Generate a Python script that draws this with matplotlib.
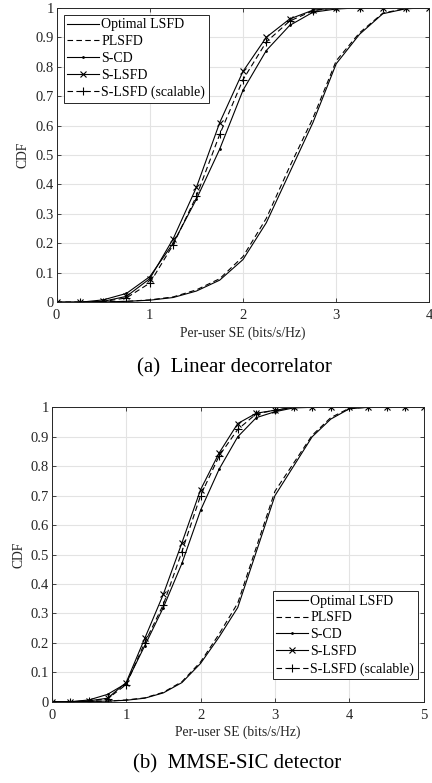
import numpy as np
import matplotlib
matplotlib.use("Agg")
import matplotlib.pyplot as plt

plt.rcParams["font.family"] = ["Liberation Serif", "DejaVu Serif"]

# (a) linear decorrelator, SE grid 0..4 step 0.25
se_a = np.arange(0, 4.01, 0.25)
opt_a = [0, 0, 0.001, 0.003, 0.007, 0.016, 0.038, 0.075, 0.145, 0.27, 0.44, 0.61, 0.81, 0.91, 0.98, 0.997, 1]
plsfd_a = [0, 0, 0.001, 0.003, 0.008, 0.018, 0.042, 0.08, 0.155, 0.285, 0.46, 0.625, 0.82, 0.915, 0.982, 0.998, 1]
scd_a = [0, 0, 0.008, 0.03, 0.087, 0.2, 0.35, 0.52, 0.72, 0.855, 0.94, 0.985, 0.996, 1, 1, 1, 1]
slsfd_a = [0, 0, 0.003, 0.02, 0.08, 0.215, 0.39, 0.61, 0.784, 0.9, 0.962, 0.992, 1, 1, 1, 1, 1]
scal_a = [0, 0, 0.002, 0.015, 0.065, 0.195, 0.36, 0.57, 0.756, 0.884, 0.955, 0.99, 1, 1, 1, 1, 1]

# (b) MMSE-SIC detector, SE grid 0..5 step 0.25
se_b = np.arange(0, 5.01, 0.25)
opt_b = [0, 0, 0.001, 0.002, 0.005, 0.012, 0.03, 0.065, 0.13, 0.22, 0.32, 0.51, 0.7, 0.8, 0.9, 0.96, 0.995, 1, 1, 1, 1]
plsfd_b = [0, 0, 0.001, 0.002, 0.006, 0.013, 0.032, 0.068, 0.135, 0.23, 0.335, 0.525, 0.715, 0.81, 0.905, 0.965, 0.997, 1, 1, 1, 1]
scd_b = [0, 0, 0.006, 0.025, 0.062, 0.19, 0.32, 0.47, 0.65, 0.79, 0.9, 0.965, 0.985, 0.998, 1, 1, 1, 1, 1, 1, 1]
slsfd_b = [0, 0, 0.003, 0.012, 0.065, 0.215, 0.365, 0.54, 0.72, 0.845, 0.945, 0.98, 0.99, 1, 1, 1, 1, 1, 1, 1, 1]
scal_b = [0, 0, 0.002, 0.01, 0.058, 0.2, 0.33, 0.51, 0.70, 0.835, 0.925, 0.978, 0.99, 1, 1, 1, 1, 1, 1, 1, 1]

labels = ["Optimal LSFD", "PLSFD", "S-CD", "S-LSFD", "S-LSFD (scalable)"]
styles = [dict(ls="-", marker=None),
          dict(ls="--", marker=None, dashes=(5, 3)),
          dict(ls="-", marker=".", ms=2),
          dict(ls="-", marker="x", ms=4, mew=0.8),
          dict(ls="--", marker="+", ms=6, mew=0.8, dashes=(5, 3))]

fig = plt.figure(figsize=(4.32, 7.83), dpi=100)
ax1 = fig.add_axes([0.131, 0.614, 0.863, 0.376])
ax2 = fig.add_axes([0.1197, 0.1038, 0.8613, 0.376])


def draw(ax, x, series, xmax):
    for y, lab, st in zip(series, labels, styles):
        ax.plot(x, y, color="black", lw=0.8, label=lab, **st)
    ax.set_xlim(0, xmax)
    ax.set_ylim(0, 1)
    ax.set_xticks(np.arange(0, xmax + 1, 1))
    ax.set_yticks(np.arange(0, 1.01, 0.1))
    ax.set_yticklabels(["0", "0.1", "0.2", "0.3", "0.4", "0.5", "0.6", "0.7", "0.8", "0.9", "1"])
    ax.grid(True, color="#e3e3e3", lw=0.8)
    ax.set_axisbelow(True)
    ax.tick_params(direction="in", top=True, right=True, labelsize=10.5,
                   length=3, width=0.6, colors="#262626")
    ax.tick_params(axis="x", pad=5)
    ax.tick_params(axis="y", pad=2)
    for s in ax.spines.values():
        s.set_color("#262626")
        s.set_linewidth(0.7)
    ax.set_xlabel("Per-user SE (bits/s/Hz)", fontsize=9.8, color="#262626", labelpad=3)
    ax.set_ylabel("CDF", fontsize=9.8, color="#262626", labelpad=4)


draw(ax1, se_a, [opt_a, plsfd_a, scd_a, slsfd_a, scal_a], 4)
draw(ax2, se_b, [opt_b, plsfd_b, scd_b, slsfd_b, scal_b], 5)

leg_kw = dict(fontsize=10, handlelength=2.3, handletextpad=0.15, labelspacing=0.28,
              borderpad=0.25, borderaxespad=0, fancybox=False, framealpha=1,
              edgecolor="#262626")
l1 = ax1.legend(loc="upper left", bbox_to_anchor=(0.0196, 0.976), **leg_kw)
l2 = ax2.legend(loc="lower right", bbox_to_anchor=(0.984, 0.077), **leg_kw)
for l in (l1, l2):
    l.get_frame().set_linewidth(0.7)

fig.text(0.542, 1 - 368 / 783, "(a)  Linear decorrelator", ha="center", va="center", fontsize=15)
fig.text(0.548, 1 - 764 / 783, "(b)  MMSE-SIC detector", ha="center", va="center", fontsize=15)

fig.savefig("out.png", dpi=100)
